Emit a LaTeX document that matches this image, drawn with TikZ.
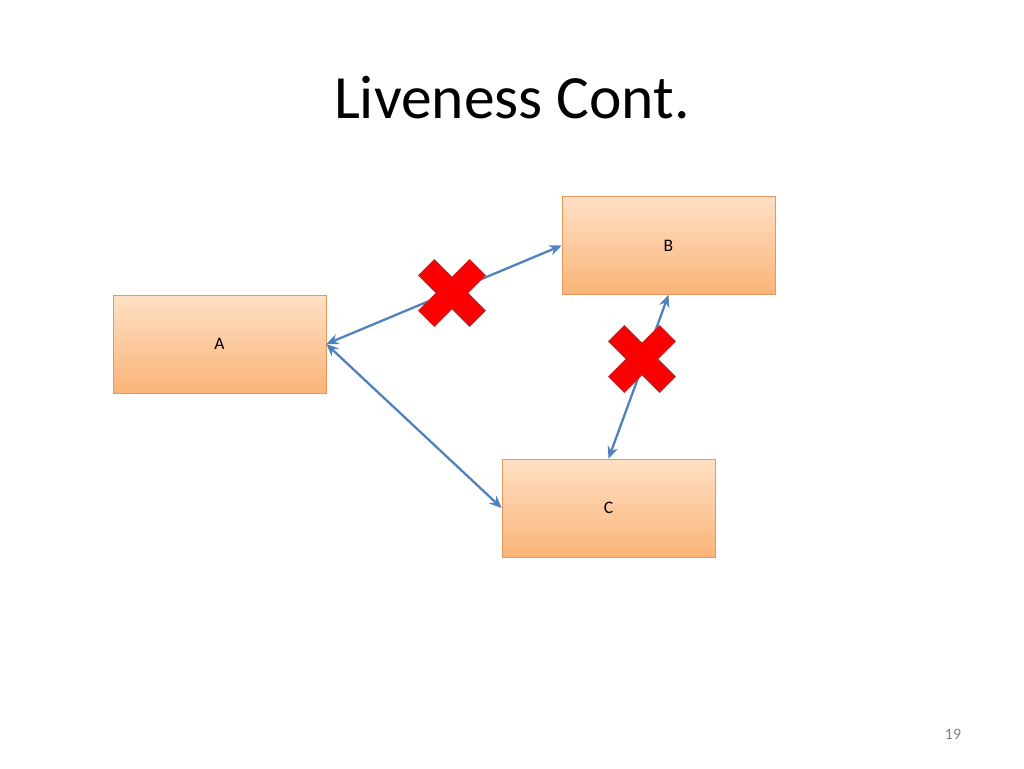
\documentclass[tikz,border=0pt]{standalone}
\usepackage{fontspec}
\setmainfont{Carlito}
\usetikzlibrary{arrows.meta,positioning}
\definecolor{boxtop}{RGB}{255,224,196}
\definecolor{boxbot}{RGB}{250,180,120}
\definecolor{boxline}{RGB}{232,150,90}
\definecolor{linkblue}{RGB}{79,129,189}
\definecolor{xred}{RGB}{250,0,0}
\definecolor{xline}{RGB}{190,40,40}
\tikzset{
  proc/.style={draw=boxline,top color=boxtop,bottom color=boxbot,minimum width=4.26cm,minimum height=1.96cm,inner sep=0pt,font=\fontsize{10}{12}\selectfont},
  link/.style={draw=linkblue,line width=1.3pt,{Stealth[length=7pt,width=6pt]}-{Stealth[length=7pt,width=6pt]}},
  cross/.style={fill=xred,draw=xline,line width=0.6pt}
}
\newcommand{\failmark}[1]{%
  \draw[cross,shift={#1},rotate=45] (-11,-36) -- (11,-36) -- (11,-11) -- (36,-11) -- (36,11) -- (11,11) -- (11,36) -- (-11,36) -- (-11,11) -- (-36,11) -- (-36,-11) -- (-11,-11) -- cycle;}
\begin{document}
\begin{tikzpicture}[x=0.02cm,y=-0.02cm]
  \useasboundingbox (0,0) rectangle (1024,768);

  \node[font=\fontsize{35}{40}\selectfont] (title) at (512,98) {Liveness Cont.};

  \node[proc] (A) at (219.5,344) {A};
  \node[proc] (B) at (668.5,245.5) {B};
  \node[proc] (C) at (608.5,508) {C};

  \draw[link] (A.east) -- (B.west);
  \draw[link] (A.east) -- (C.west);
  \draw[link] (B.south) -- (C.north);

  \failmark{(452,293)}
  \failmark{(642,359)}

  \node[text=gray,font=\fontsize{9}{10}\selectfont] (page) at (953,734) {19};
\end{tikzpicture}
\end{document}
